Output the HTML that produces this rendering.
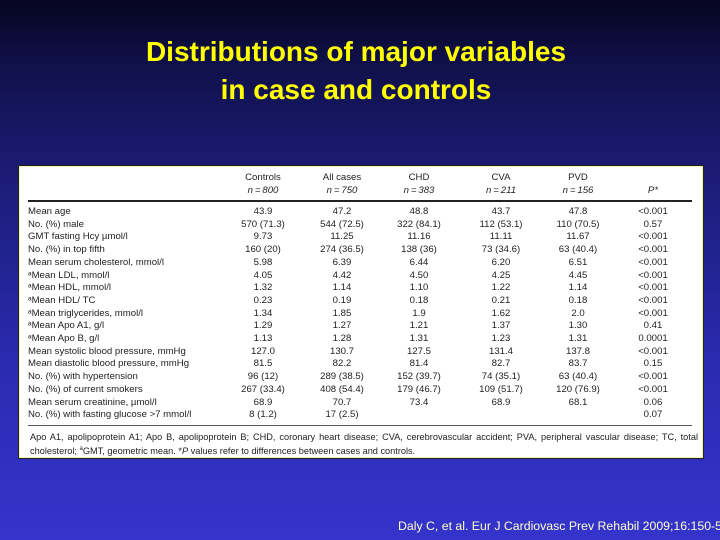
<!DOCTYPE html>
<html><head><meta charset="utf-8">
<style>
html,body{margin:0;padding:0}
body{width:720px;height:540px;position:relative;overflow:hidden;font-family:"Liberation Sans",sans-serif;
background:linear-gradient(180deg,#050520 0px,#101048 60px,#1c1c78 180px,#2a2ab0 360px,#3434cc 540px);}
.title{position:absolute;left:0;width:712px;text-align:center;color:#ffff00;font-weight:bold;font-size:28px;line-height:38px}
#box{position:absolute;left:19px;top:166px;width:682px;height:290px;background:#fff;border:1px solid #f4f4b0;box-shadow:0 0 0 1px #222}
.c{position:absolute;font-size:9.6px;color:#222;white-space:nowrap;line-height:11px}
.ctr{transform:translateX(-50%)}
.cite{position:absolute;left:398px;top:519px;color:#ffffcc;font-size:12.3px;white-space:nowrap}
</style></head><body>
<div class="title" style="top:33px">Distributions of major variables</div>
<div class="title" style="top:71px">in case and controls</div>
<div id="box">
  <div style="position:absolute;left:8px;top:33px;width:664px;height:2px;background:#222"></div>
  <div style="position:absolute;left:8px;top:258px;width:664px;height:1px;background:#555"></div>
  <div style="position:absolute;left:10px;top:264px;width:668px;font-size:9.2px;line-height:12px;color:#222;text-align:justify">Apo A1, apolipoprotein A1; Apo B, apolipoprotein B; CHD, coronary heart disease; CVA, cerebrovascular accident; PVA, peripheral vascular disease; TC, total cholesterol; <sup style="font-size:6px">a</sup>GMT, geometric mean. *<i>P</i> values refer to differences between cases and controls.</div>
</div>
<div class="cite">Daly C, et al. Eur J Cardiovasc Prev Rehabil 2009;16:150-5</div>
<script>
const colHeads=["Controls","All cases","CHD","CVA","PVD"];
const colNs=["n\u2009=\u2009800","n\u2009=\u2009750","n\u2009=\u2009383","n\u2009=\u2009211","n\u2009=\u2009156"];
const rowLabels=["Mean age","No. (%) male","GMT fasting Hcy \u00b5mol/l","No. (%) in top fifth","Mean serum cholesterol, mmol/l","\u1d43Mean LDL, mmol/l","\u1d43Mean HDL, mmol/l","\u1d43Mean HDL/ TC","\u1d43Mean triglycerides, mmol/l","\u1d43Mean Apo A1, g/l","\u1d43Mean Apo B, g/l","Mean systolic blood pressure, mmHg","Mean diastolic blood pressure, mmHg","No. (%) with hypertension","No. (%) of current smokers","Mean serum creatinine, \u00b5mol/l","No. (%) with fasting glucose >7 mmol/l"];
const controls=["43.9","570 (71.3)","9.73","160 (20)","5.98","4.05","1.32","0.23","1.34","1.29","1.13","127.0","81.5","96 (12)","267 (33.4)","68.9","8 (1.2)"];
const allCases=["47.2","544 (72.5)","11.25","274 (36.5)","6.39","4.42","1.14","0.19","1.85","1.27","1.28","130.7","82.2","289 (38.5)","408 (54.4)","70.7","17 (2.5)"];
const chd=["48.8","322 (84.1)","11.16","138 (36)","6.44","4.50","1.10","0.18","1.9","1.21","1.31","127.5","81.4","152 (39.7)","179 (46.7)","73.4",""];
const cva=["43.7","112 (53.1)","11.11","73 (34.6)","6.20","4.25","1.22","0.21","1.62","1.37","1.23","131.4","82.7","74 (35.1)","109 (51.7)","68.9",""];
const pvd=["47.8","110 (70.5)","11.67","63 (40.4)","6.51","4.45","1.14","0.18","2.0","1.30","1.31","137.8","83.7","63 (40.4)","120 (76.9)","68.1",""];
const pvals=["<0.001","0.57","<0.001","<0.001","<0.001","<0.001","<0.001","<0.001","<0.001","0.41","0.0001","<0.001","0.15","<0.001","<0.001","0.06","0.07"];
const box=document.getElementById('box');
const colX=[243,322,399,481,558,633];
const rowY=i=>45+i*12.7;
function cell(txt,x,y,center,name){
  const d=document.createElement('div');
  d.className='c'+(center?' ctr':'');
  d.style.left=x+'px';d.style.top=y+'px';
  d.textContent=txt;
  
  
  box.appendChild(d);return d;
}
colHeads.forEach((h,i)=>{
  cell(h,colX[i],5,true,'column-header');
  const n=cell(colNs[i],colX[i],18,true,'column-n');
  n.style.fontStyle='italic';
});
const ph=cell('P*',colX[5],18,true,'p-value-header');
ph.style.fontStyle='italic';
const cols=[controls,allCases,chd,cva,pvd,pvals];
rowLabels.forEach((lab,r)=>{
  cell(lab,8,rowY(r)-6,false,'row-label');
  cols.forEach((col,ci)=>{
    if(col[r])cell(col[r],colX[ci],rowY(r)-6,true,'table-cell');
  });
});
</script>
</body></html>
